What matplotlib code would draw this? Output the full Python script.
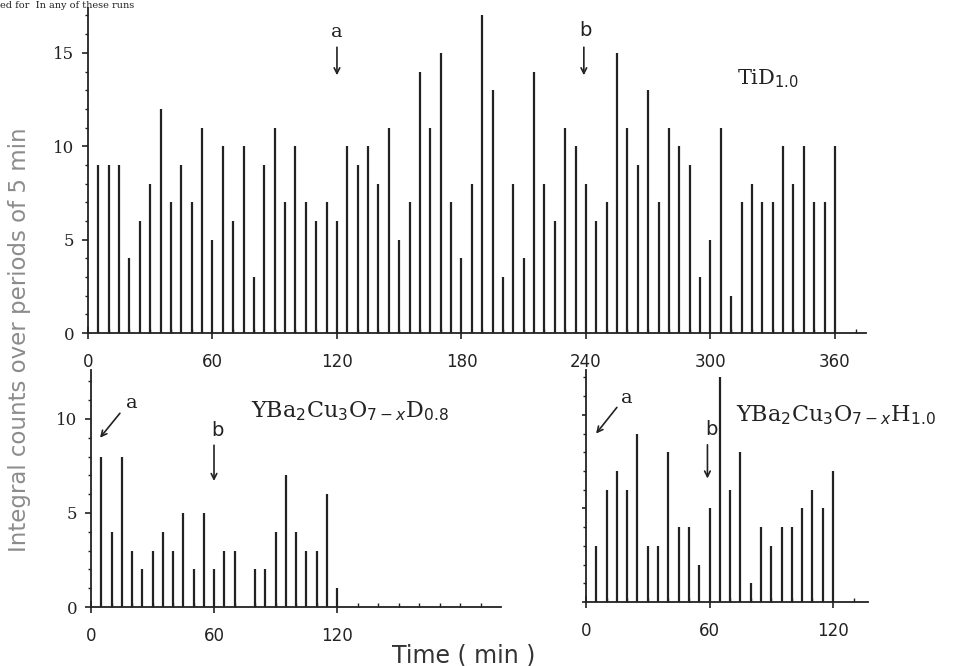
import numpy as np
import matplotlib
matplotlib.use("Agg")
import matplotlib.pyplot as plt

# counts per 5-min period
tid_vals = [9, 9, 9, 4, 6, 8, 12, 7, 9, 7, 11, 5, 10, 6, 10, 3, 9, 11, 7, 10,
            7, 6, 7, 6, 10, 9, 10, 8, 11, 5, 7, 14, 11, 15, 7, 4, 8, 17, 13, 3,
            8, 4, 14, 8, 6, 11, 10, 8, 6, 7, 15, 11, 9, 13, 7, 11, 10, 9, 3, 5,
            11, 2, 7, 8, 7, 7, 10, 8, 10, 7, 7, 10]
ybcod_vals = [8, 4, 8, 3, 2, 3, 4, 3, 5, 2, 5, 2, 3, 3, 0, 2, 2, 4, 7, 4, 3, 3, 6, 1]
ybcoh_vals = [3, 6, 7, 6, 9, 3, 3, 8, 4, 4, 2, 5, 12, 6, 8, 1, 4, 3, 4, 4, 5, 6, 5, 7]

tid_t = np.arange(1, len(tid_vals) + 1) * 5
ybcod_t = np.arange(1, len(ybcod_vals) + 1) * 5
ybcoh_t = np.arange(1, len(ybcoh_vals) + 1) * 5

W, H = 974, 666
fig = plt.figure(figsize=(W / 100, H / 100), dpi=100)
fig.patch.set_facecolor("white")

ink = "#222222"


def px_axes(l, t, r, b):
    # axes box from pixel edges (left, top, right, bottom)
    return fig.add_axes([l / W, 1 - b / H, (r - l) / W, (b - t) / H])


def style(ax, xmax, ymax, xtick_max, ylabels=True):
    ax.set_xlim(0, xmax)
    ax.set_ylim(0, ymax)
    for s in ["top", "right"]:
        ax.spines[s].set_visible(False)
    for s in ["left", "bottom"]:
        ax.spines[s].set_color(ink)
        ax.spines[s].set_linewidth(1.3)
    ax.set_xticks(np.arange(0, xtick_max + 1, 60))
    ax.set_xticks(np.arange(0, xmax, 10), minor=True)
    ax.set_yticks(np.arange(0, ymax, 5))
    ax.set_yticks(np.arange(0, ymax, 1), minor=True)
    ax.tick_params(axis="x", which="major", direction="inout", length=9, width=1.2,
                   color=ink, pad=10, labelsize=12, labelcolor=ink)
    ax.tick_params(axis="x", which="minor", direction="in", length=3, width=1, color=ink)
    ax.tick_params(axis="y", which="major", direction="out", length=4, width=1.2,
                   color=ink, pad=6, labelsize=12, labelcolor=ink)
    ax.tick_params(axis="y", which="minor", direction="out", length=2, width=1, color=ink)
    for lab in ax.get_yticklabels():
        lab.set_family("DejaVu Serif")
    if not ylabels:
        ax.set_yticklabels([])
        ax.tick_params(axis="y", which="major", length=3)


def arrow(ax, xy, xytext):
    ax.annotate("", xy=xy, xytext=xytext,
                arrowprops=dict(arrowstyle="->", color=ink, lw=1.2, shrinkA=0, shrinkB=0))


# top panel: TiD1.0
ax1 = px_axes(88, 8, 866, 333)
ax1.vlines(tid_t, 0, tid_vals, color=ink, lw=1.6)
style(ax1, 375, 17.4, 360)
ax1.text(120, 16.1, "a", ha="center", va="center", fontsize=14, color=ink, family="DejaVu Serif")
arrow(ax1, (120, 13.8), (120, 15.3))
ax1.text(240, 16.2, "b", ha="center", va="center", fontsize=14, color=ink)
arrow(ax1, (239, 13.8), (239, 15.3))
ax1.text(313, 13.6, r"TiD$_{1.0}$", ha="left", va="center", fontsize=15, color=ink,
         family="DejaVu Serif")

# bottom left: YBa2Cu3O7-xD0.8
ax2 = px_axes(91, 370, 501, 607)
ax2.vlines(ybcod_t, 0, ybcod_vals, color=ink, lw=1.6)
style(ax2, 200, 12.6, 120)
ax2.text(20, 10.85, "a", ha="center", va="center", fontsize=14, color=ink, family="DejaVu Serif")
arrow(ax2, (4.4, 9.0), (14.1, 10.3))
ax2.text(61.5, 9.4, "b", ha="center", va="center", fontsize=14, color=ink)
arrow(ax2, (60, 6.7), (60, 8.6))
ax2.text(78, 10.4, r"YBa$_2$Cu$_3$O$_{7-x}$D$_{0.8}$", ha="left", va="center",
         fontsize=16, color=ink, family="DejaVu Serif")

# bottom right: YBa2Cu3O7-xH1.0
ax3 = px_axes(586, 370, 868, 602)
ax3.vlines(ybcoh_t, 0, ybcoh_vals, color=ink, lw=1.6)
style(ax3, 137, 12.4, 120, ylabels=False)
ax3.text(20, 10.9, "a", ha="center", va="center", fontsize=14, color=ink, family="DejaVu Serif")
arrow(ax3, (4.9, 9.0), (15, 10.4))
ax3.text(61, 9.2, "b", ha="center", va="center", fontsize=14, color=ink)
arrow(ax3, (59, 6.6), (59, 8.4))
ax3.text(73, 10.0, r"YBa$_2$Cu$_3$O$_{7-x}$H$_{1.0}$", ha="left", va="center",
         fontsize=16, color=ink, family="DejaVu Serif")

# shared labels
fig.text(20 / W, 1 - 340 / H, "Integral counts over periods of 5 min", rotation=90,
         ha="center", va="center", fontsize=16.5, color="#8c8c8c")
fig.text(464 / W, 1 - 655 / H, "Time ( min )", ha="center", va="center",
         fontsize=17, color="#333333")

# line of text from the page above, mostly cut off in the scan
fig.text(0.0, 1 - 8 / H, "ed for  In any of these runs", ha="left", va="baseline",
         fontsize=7, color=ink, family="DejaVu Serif")

fig.savefig("out.png", dpi=100, facecolor="white")
